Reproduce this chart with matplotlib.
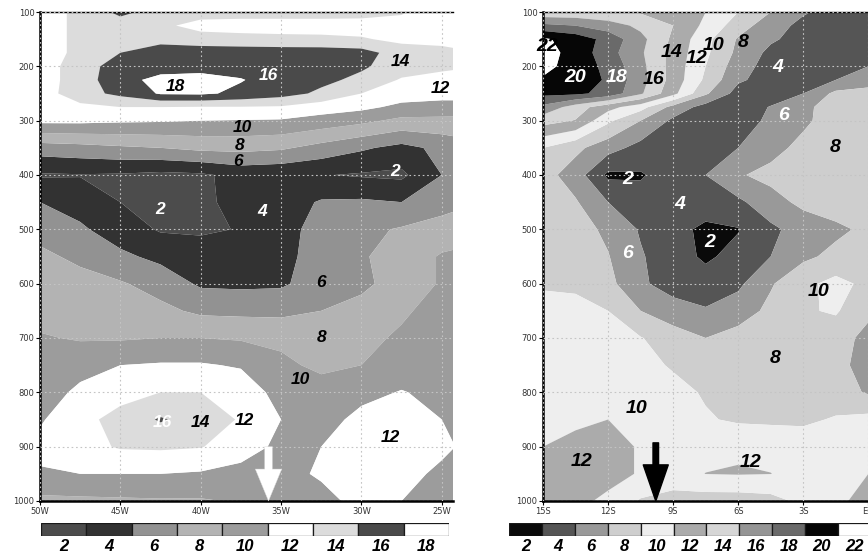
import numpy as np
import matplotlib
matplotlib.use("Agg")
import matplotlib.pyplot as plt

plt.rcParams['font.family'] = ['Liberation Sans', 'DejaVu Sans']

# ---------------------------------------------------------------
# Data: pressure-longitude / pressure-latitude sections
# ---------------------------------------------------------------
PRES = [100, 125, 150, 175, 200, 225, 250, 275, 300, 350, 400, 450, 500,
        550, 600, 650, 700, 750, 800, 850, 900, 950, 1000]

# left section, longitude (negative = west)
LON_W = [-50, -47.5, -45, -42.5, -40, -37.5, -35, -32.5, -30, -27.5, -25, -22.5]
FIELD_W = [
    [12, 13.5, 15.5, 14.2, 14, 14, 14, 14, 13.8, 13.2, 11.5, 9.5],
    [12, 13.5, 14, 13.5, 12.2, 12, 12, 12, 12.1, 12.3, 12, 11],
    [12, 13.5, 14.2, 14.5, 14, 13.8, 13.6, 13.5, 13.2, 12.5, 12.5, 12],
    [12, 13.5, 15, 15.8, 16, 16, 16, 16, 15.8, 14, 13.5, 13],
    [12, 14, 16, 16.1, 16.2, 16.3, 16.2, 16, 15.3, 14, 13.5, 13],
    [12, 14, 16.3, 17.6, 17.8, 17.1, 16.2, 15.5, 14.5, 12.8, 12.2, 12.5],
    [12, 14.2, 15.5, 17.2, 17.3, 16.6, 15.8, 14.6, 13, 12, 11.8, 12],
    [12, 12.5, 13, 13, 12.9, 12.9, 12.8, 12, 11.5, 10.5, 10.2, 10],
    [11.5, 11.5, 11.3, 11.2, 11, 10.9, 10.8, 10.2, 9.5, 8.5, 8.5, 8.5],
    [6, 6.3, 6.7, 7, 7.5, 7.6, 7.3, 6.3, 5.3, 4.4, 5.5, 6.5],
    [2.8, 2.9, 2.8, 2.5, 2.7, 3.6, 3.4, 3.1, 2.8, 2.6, 5, 6.5],
    [5, 4.2, 3.0, 2.4, 2.6, 3.6, 4, 5.2, 5.3, 5, 6.2, 7],
    [6.2, 5.3, 4, 2.8, 2.7, 3.1, 4.2, 5.8, 6.5, 7.2, 7.8, 8.2],
    [7.5, 6.5, 5.4, 4.5, 4, 4, 4.3, 6, 6.8, 7.8, 9.2, 9.8],
    [8, 7.8, 7.2, 6.2, 4.7, 4.6, 4.7, 6, 6.6, 7.8, 9.2, 10],
    [8.2, 8, 8, 7.5, 6.6, 6.5, 6.5, 7, 7.6, 8.6, 10, 10.5],
    [9.2, 8.8, 8.8, 9, 9, 8.8, 8.5, 8, 8.3, 9.4, 10.2, 10.5],
    [10, 10.5, 11, 11.2, 11.2, 10.8, 9.5, 8.5, 9, 10, 10.3, 10.5],
    [10.3, 11.3, 12.2, 13, 13, 12.3, 10.2, 10, 10.5, 11.1, 10.5, 10],
    [10.8, 12.3, 13.8, 15.2, 14.2, 12.8, 11, 10.3, 11.5, 12, 11, 10],
    [11.5, 12.3, 13.2, 13.3, 13.1, 12, 10.5, 11, 12, 12.3, 11.5, 10],
    [10.8, 11, 11, 11, 10.8, 10.3, 10.5, 11.2, 12, 11.8, 10.5, 10],
    [8.5, 8.6, 8.7, 8.8, 8.8, 9.2, 9.8, 10.5, 11.5, 11, 10, 10],
]

# right section, latitude (negative = south)
LAT_S = [-15, -13.5, -12, -10.5, -9, -7.5, -6, -4.5, -3, -1.5, 0, 1.5]
FIELD_S = [
    [13.5, 13.5, 13.2, 12.8, 12, 11, 9, 7, 5.2, 4.3, 4, 4],
    [17.5, 17, 16, 14.5, 13, 10.5, 8, 5.8, 4.5, 4, 4, 4],
    [21.3, 20.2, 18.3, 15.6, 12.6, 9.6, 6.8, 5.3, 4.2, 4, 4.2, 4.5],
    [21.8, 20.3, 17.8, 15.3, 12.3, 9.4, 6.5, 4.5, 4, 4, 4.5, 5],
    [21.5, 20.3, 18.4, 15.6, 12.2, 9, 5.9, 4.2, 4, 4.5, 5, 5.5],
    [20.8, 20.3, 18.7, 15.8, 12.2, 8.6, 5.3, 4.2, 4, 5, 6, 6.5],
    [19.5, 19.4, 18.4, 15.3, 11.6, 7.3, 4.2, 4, 5, 7.5, 7.8, 8],
    [16.5, 14, 11.7, 9.8, 6.3, 4.2, 4, 5.1, 6.6, 7.8, 8, 8],
    [13.8, 12.9, 9.4, 7, 4.6, 4.2, 4.3, 5.3, 6.6, 8, 8.2, 8.2],
    [9, 7.5, 5.8, 4.3, 4, 4.2, 5, 6.3, 7.6, 8.2, 8.4, 8.4],
    [7.8, 6, 2.6, 2.8, 4, 5, 6.8, 7.6, 8, 8.2, 8.4, 8.4],
    [8, 7.2, 5, 3.8, 3.8, 4, 4.6, 6.2, 7.5, 8, 8.2, 8.3],
    [8.2, 7.8, 6.6, 4.8, 3.6, 2.6, 2.9, 4.6, 5.8, 6.6, 7.4, 8],
    [8.4, 8, 7.1, 5.2, 3.8, 2.7, 3.6, 5, 6.6, 7.5, 7.8, 8],
    [8.8, 8.7, 7.6, 5.3, 4.2, 3.8, 4.6, 6.8, 8.5, 9.6, 8.5, 8],
    [9.6, 9.5, 9, 7, 5.8, 5.2, 6, 7.5, 8.8, 9.2, 7.5, 6.5],
    [9.8, 10, 9.8, 9.1, 8, 7, 7.8, 8, 8.2, 8, 6.3, 6],
    [10, 10.2, 10, 9.6, 8.8, 8, 8, 8, 8, 7.6, 6.2, 6],
    [10, 10.2, 10.2, 10, 9.6, 8.8, 8.2, 8, 8, 7.8, 6.8, 6.5],
    [10.2, 10.6, 11, 10.4, 9.8, 9.2, 8.7, 8.6, 8.6, 9.2, 9.6, 9.5],
    [11, 11.6, 11.8, 10.8, 10.4, 10.6, 10.8, 10.6, 10.2, 10.4, 10.2, 10],
    [12, 12.2, 11.8, 10.8, 10.5, 11.02, 11.1, 11.02, 10.5, 10.3, 11, 11.5],
    [12, 11.6, 10.5, 8.8, 8, 8, 8, 8.3, 9.5, 10.5, 11.8, 12],
]

# shading classes (labels on the colour bars) and their grey shades
CLASS_W = [2, 4, 6, 8, 10, 12, 14, 16, 18]
SHADE_W = ['#4c4c4c', '#323232', '#929292', '#b3b3b3', '#9c9c9c',
           '#ffffff', '#dcdcdc', '#4a4a4a', '#ffffff']
CLASS_S = [2, 4, 6, 8, 10, 12, 14, 16, 18, 20, 22]
SHADE_S = ['#0a0a0a', '#555555', '#999999', '#cecece', '#eeeeee', '#ababab',
           '#d6d6d6', '#959595', '#6a6a6a', '#060606', '#ffffff']

# in-plot contour labels: (x, pressure, text, colour)
LABELS_W = [
    (-27.6, 192, '14', 'k'), (-25.1, 240, '12', 'k'), (-35.8, 216, '16', 'w'),
    (-41.6, 238, '18', 'k'), (-37.4, 312, '10', 'k'), (-37.6, 345, '8', 'k'),
    (-37.7, 376, '6', 'k'), (-27.9, 394, '2', 'w'), (-42.5, 464, '2', 'w'),
    (-36.2, 468, '4', 'w'), (-32.5, 597, '6', 'k'), (-32.5, 700, '8', 'k'),
    (-33.8, 777, '10', 'k'), (-28.2, 884, '12', 'k'), (-37.3, 851, '12', 'k'),
    (-40.0, 855, '14', 'k'), (-42.4, 855, '16', 'w'),
]
LABELS_S = [
    (-14.8, 164, '22', 'k'), (-13.5, 220, '20', 'w'), (-11.6, 220, '18', 'w'),
    (-9.9, 225, '16', 'k'), (-9.05, 174, '14', 'k'), (-7.9, 185, '12', 'k'),
    (-7.15, 161, '10', 'k'), (-5.77, 157, '8', 'k'), (-4.16, 203, '4', 'w'),
    (-3.92, 290, '6', 'w'), (-1.53, 350, '8', 'k'), (-11.08, 409, '2', 'w'),
    (-8.68, 455, '4', 'w'), (-7.29, 525, '2', 'w'), (-11.08, 544, '6', 'w'),
    (-2.31, 615, '10', 'k'), (-4.29, 737, '8', 'k'), (-10.7, 829, '10', 'k'),
    (-13.2, 928, '12', 'k'), (-5.45, 930, '12', 'k'),
]

XTICKS_W = [-50, -45, -40, -35, -30, -25]
XTICKLABELS_W = ['50W', '45W', '40W', '35W', '30W', '25W']
XTICKS_S = [-15, -12, -9, -6, -3, 0]
XTICKLABELS_S = ['15S', '12S', '9S', '6S', '3S', 'EQ']
YTICKS = [100, 200, 300, 400, 500, 600, 700, 800, 900, 1000]

ARROW_W = -35.78   # marker of the section point, left panel
ARROW_S = -9.8     # marker of the section point, right panel

W, H = 868, 555


def fig_rect(x0, y0, x1, y1):
    """pixel box (top-left origin) -> figure fraction rect"""
    return [x0 / W, (H - y1) / H, (x1 - x0) / W, (y1 - y0) / H]


def bounds(classes):
    mids = [(a + b) / 2 for a, b in zip(classes[:-1], classes[1:])]
    return [-100] + mids + [100]


def section(ax, xs, field, classes, shades, labels, xlim, xticks, xticklabels,
            fs_lab):
    ax.contourf(xs, PRES, np.array(field), levels=bounds(classes),
                colors=shades, antialiased=True)
    ax.set_xlim(xlim)
    ax.set_ylim(1000, 100)
    ax.set_xticks(xticks)
    ax.set_xticklabels(xticklabels, family='DejaVu Sans')
    ax.set_yticks(YTICKS)
    ax.set_yticklabels([str(v) for v in YTICKS], family='DejaVu Sans')
    ax.tick_params(labelsize=6, length=3, width=0.8, pad=1,
                   labelcolor='#333333')
    ax.grid(True, color='#c4c4c4', linestyle=(0, (1.5, 2.5)), linewidth=0.8)
    ax.set_axisbelow(False)
    ax.spines['right'].set_visible(False)
    ax.spines['left'].set_linewidth(1.8)
    ax.spines['bottom'].set_linewidth(1.8)
    ax.spines['top'].set_linewidth(1.0)
    for x, p, s, c in labels:
        ax.text(x, p, s, color=c, fontsize=fs_lab, fontweight='bold',
                fontstyle='italic', ha='center', va='center', zorder=5)


def colour_bar(cax, classes, shades):
    n = len(classes)
    cax.bar(np.arange(n), 1, width=1, align='edge', color=shades,
            edgecolor='#1a1a1a', linewidth=0.9)
    cax.set_xlim(0, n)
    cax.set_ylim(0, 1)
    cax.axis('off')
    for i, c in enumerate(classes):
        cax.text(i + 0.5, -0.25, str(c), ha='center', va='top',
                 fontsize=12, fontweight='bold', fontstyle='italic',
                 transform=cax.get_xaxis_transform())


fig = plt.figure(figsize=(W / 100, H / 100), dpi=100)

ax_w = fig.add_axes(fig_rect(40, 12, 453, 501))
section(ax_w, LON_W, FIELD_W, CLASS_W, SHADE_W, LABELS_W, (-50, -24.3),
        XTICKS_W, XTICKLABELS_W, 12.5)
ax_w.annotate('', xy=(ARROW_W, 1000), xytext=(ARROW_W, 900),
              arrowprops=dict(facecolor='white', edgecolor='#dddddd',
                              linewidth=0.3, width=5.5, headwidth=19,
                              headlength=23, shrink=0),
              annotation_clip=False, zorder=6)

ax_s = fig.add_axes(fig_rect(543, 12, 890, 501))
section(ax_s, LAT_S, FIELD_S, CLASS_S, SHADE_S, LABELS_S, (-15, 1.0),
        XTICKS_S, XTICKLABELS_S, 14)
ax_s.annotate('', xy=(ARROW_S, 1000), xytext=(ARROW_S, 893),
              arrowprops=dict(facecolor='black', edgecolor='black',
                              width=4, headwidth=18, headlength=26, shrink=0),
              annotation_clip=False, zorder=6)

cax_w = fig.add_axes(fig_rect(41, 523, 449, 536))
colour_bar(cax_w, CLASS_W, SHADE_W)
cax_s = fig.add_axes(fig_rect(509, 523, 871, 536))
colour_bar(cax_s, CLASS_S, SHADE_S)

fig.savefig('out.png', dpi=100)
